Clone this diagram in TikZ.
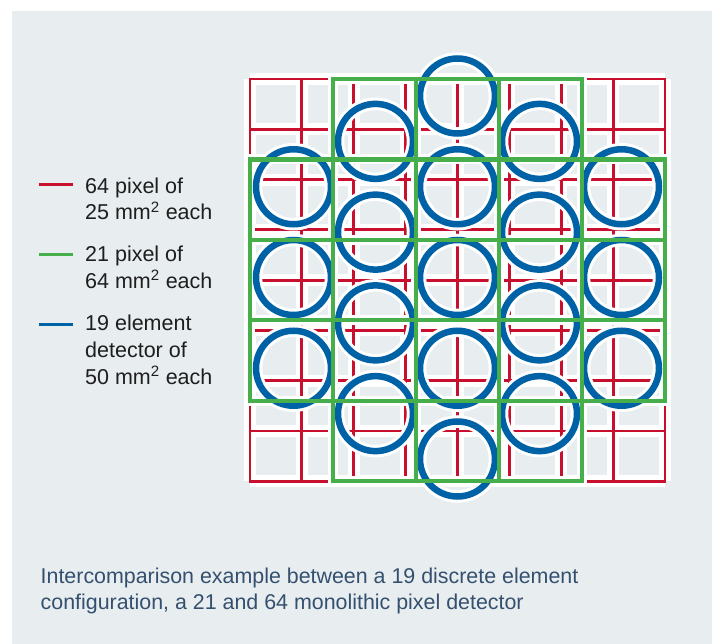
\documentclass[tikz,border=0pt]{standalone}
\usepackage{fontspec}
\setmainfont{Liberation Sans}
\definecolor{bg}{HTML}{E8EDF0}
\definecolor{pxred}{HTML}{C8102E}
\definecolor{pxgreen}{HTML}{46AF4B}
\definecolor{pxblue}{HTML}{0062A6}
\definecolor{captxt}{HTML}{34506E}
\definecolor{legtxt}{HTML}{1E1E1E}
\begin{document}
\begin{tikzpicture}[x=1pt,y=-1pt,
  redcase/.style={draw=white,line width=12pt,line cap=square},
  redline/.style={draw=pxred,line width=2.8pt},
  greencase/.style={draw=white,line width=10pt,line cap=square},
  greenline/.style={draw=pxgreen,line width=4.2pt},
  bluecase/.style={draw=white,line width=12.5pt},
  blueline/.style={draw=pxblue,line width=6.5pt},
  legline/.style={line width=3pt},
  legtext/.style={anchor=base west,inner sep=0pt,font=\fontsize{21.5}{26.7}\selectfont,text=legtxt},
  captext/.style={anchor=base west,inner sep=0pt,font=\fontsize{21.4}{26}\selectfont,text=captxt}]
\useasboundingbox (0,0) rectangle (712,644);
\fill[white] (0,0) rectangle (712,644);
\fill[bg] (12,11) rectangle (712,644);
% ---------- red 8x8 grid ----------
\foreach \i in {0,...,8}{
  \draw[redcase] ({250+\i*51.875},79) -- ({250+\i*51.875},481.3);
  \draw[redcase] (250,{79+\i*50.2875}) -- (665,{79+\i*50.2875});
}
\foreach \i in {1,...,7}{
  \draw[redline] ({250+\i*51.875},79) -- ({250+\i*51.875},481.3);
  \draw[redline] (250,{79+\i*50.2875}) -- (665,{79+\i*50.2875});
}
\draw[redline] (250,79) rectangle (665,481.3);
% ---------- green casing ----------
\def\greengrid#1{
  \draw[#1] (333,79) -- (333,481.3);
  \draw[#1] (416,79) -- (416,481.3);
  \draw[#1] (499,79) -- (499,481.3);
  \draw[#1] (582,79) -- (582,481.3);
  \draw[#1] (250,159.46) -- (665,159.46);
  \draw[#1] (250,239.92) -- (665,239.92);
  \draw[#1] (250,320.38) -- (665,320.38);
  \draw[#1] (250,400.84) -- (665,400.84);
  \draw[#1,line join=miter] (333,79) -- (582,79) -- (582,159.46) -- (665,159.46) -- (665,400.84)
     -- (582,400.84) -- (582,481.3) -- (333,481.3) -- (333,400.84) -- (250,400.84)
     -- (250,159.46) -- (333,159.46) -- cycle;
}
\greengrid{greencase}
% ---------- blue 19 elements ----------
\def\bluecenters{(457.5,96.0),(457.5,186.75),(457.5,277.5),(457.5,368.25),(457.5,459.0),
  (375.5,141.375),(375.5,232.125),(375.5,322.875),(375.5,413.625),
  (539.5,141.375),(539.5,232.125),(539.5,322.875),(539.5,413.625),
  (293.5,186.75),(293.5,277.5),(293.5,368.25),
  (621.5,186.75),(621.5,277.5),(621.5,368.25)}
\foreach \p in \bluecenters { \draw[bluecase] \p circle[radius=37.5pt]; }
\foreach \p in \bluecenters { \draw[blueline] \p circle[radius=37.5pt]; }
% ---------- green 21 pixels ----------
\greengrid{greenline}
% ---------- legend ----------
\draw[legline,pxred] (39,185) -- (73,185);
\draw[legline,pxgreen] (39,255) -- (73,255);
\draw[legline,pxblue] (39,324) -- (73,324);
\node[legtext] (r1) at (85,193.3) {64 pixel of};
\node[legtext] (r2) at (85,220) {25 mm\textsuperscript{2} each};
\node[legtext] (g1) at (85,261.7) {21 pixel of};
\node[legtext] (g2) at (85,288.3) {64 mm\textsuperscript{2} each};
\node[legtext] (b1) at (85,330.7) {19 element};
\node[legtext] (b2) at (85,357.3) {detector of};
\node[legtext] (b3) at (85,384) {50 mm\textsuperscript{2} each};
% ---------- caption ----------
\node[captext] (c1) at (40.5,583.3) {Intercomparison example between a 19 discrete element};
\node[captext] (c2) at (40.5,609.5) {configuration, a 21 and 64 monolithic pixel detector};
\end{tikzpicture}
\end{document}
